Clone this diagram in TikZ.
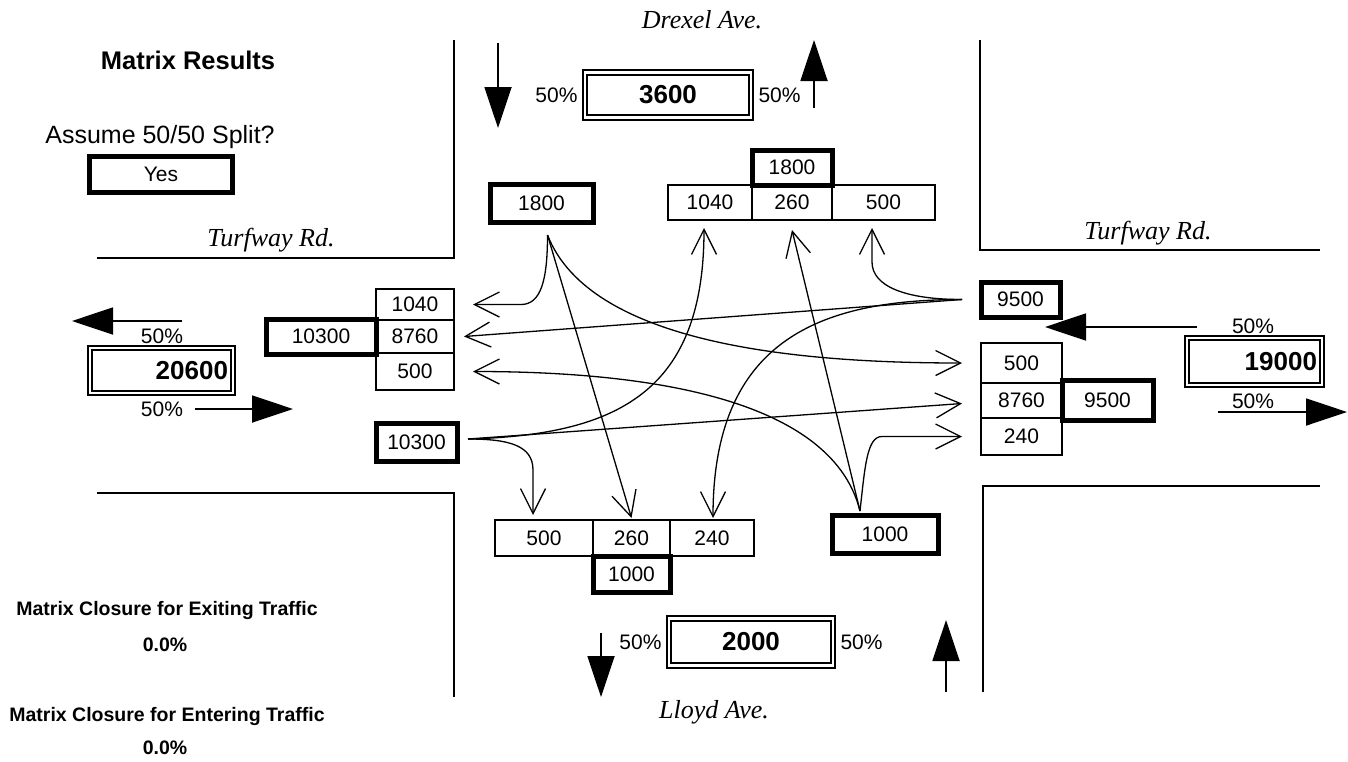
\documentclass[tikz,border=0pt]{standalone}
\usepackage{fontspec}
\setmainfont{Liberation Sans}
\newfontfamily\rdfont{Liberation Serif}
\usetikzlibrary{arrows.meta,positioning}

\begin{document}
\begin{tikzpicture}[x=1pt,y=-1pt,
    cell/.style={draw,line width=1.6pt,inner sep=0pt,outer sep=0pt,minimum height=35pt,font=\fontsize{21}{25}\selectfont},
    tot/.style={cell,line width=5pt},
    dbl/.style={draw,double,double distance=2.5pt,line width=1.8pt,inner sep=0pt,outer sep=0pt,minimum height=45pt,font=\bfseries\fontsize{26}{30}\selectfont},
    pct/.style={font=\fontsize{21}{25}\selectfont},
    road/.style={font=\rdfont\itshape\fontsize{26}{30}\selectfont},
    note/.style={font=\bfseries\fontsize{19.5}{24}\selectfont},
    curb/.style={line width=1.8pt},
    dir/.style={line width=1.8pt,-{Triangle[length=41pt,width=27pt]}},
    flow/.style={line width=1.3pt,-{Straight Barb[length=25pt,width=25pt]}}]
  \useasboundingbox (0,0) rectangle (1348,761);

  \draw[curb] (97,258) -- (454,258) -- (454,40);
  \draw[curb] (980,40) -- (980,250) -- (1320,250);
  \draw[curb] (97,493) -- (454,493) -- (454,697);
  \draw[curb] (983,692) -- (983,486) -- (1320,486);
  \node[road] (rdW) at (271,240) {Turfway Rd.};
  \node[road] (rdE) at (1148,233) {Turfway Rd.};
  \node[road] (rdN) at (702,20) {Drexel Ave.};
  \node[road] (rdS) at (714,712) {Lloyd Ave.};

  \node[font=\bfseries\fontsize{25.5}{30}\selectfont] (title) at (188,60) {Matrix Results};
  \node[font=\fontsize{25}{30}\selectfont] (ask) at (160,137) {Assume 50/50 Split?};
  \node[tot,minimum width=143pt,minimum height=36pt] (yes) at (161,174) {Yes};

  % north leg
  \coordinate (nOutA) at (498,43);
  \coordinate (nOutB) at (498,128);
  \draw[dir] (nOutA) -- (nOutB);
  \node[dbl,minimum width=166pt] (b3600) at (668,95) {3600};
  \node[pct,left=4pt of b3600] (n50out) {50\%};
  \node[pct,right=4pt of b3600] (n50in) {50\%};
  \coordinate (nInA) at (814,108);
  \coordinate (nInB) at (814,40);
  \draw[dir] (nInA) -- (nInB);
  \node[cell,minimum width=84pt] (o1040) at (710,202.5) {1040};
  \node[cell,minimum width=80pt,right=0pt of o1040] (o260) {260};
  \node[cell,minimum width=103pt,right=0pt of o260] (o500) {500};
  \node[tot,minimum width=80pt,above=0pt of o260] (i1800) {1800};
  \node[tot,minimum width=103pt,minimum height=38pt] (a1800) at (541.5,203) {1800};

  % west leg
  \coordinate (wOutA) at (182,321);
  \coordinate (wOutB) at (72,321);
  \draw[dir] (wOutA) -- (wOutB);
  \node[pct] (w50out) at (162,336) {50\%};
  \node[dbl,text width=133pt,align=right,inner xsep=5pt] (b20600) at (161.5,370.5) {20600};
  \node[pct] (w50in) at (162,409) {50\%};
  \coordinate (wInA) at (195,409);
  \coordinate (wInB) at (293,409);
  \draw[dir] (wInA) -- (wInB);
  \node[cell,minimum width=78pt,minimum height=31pt] (w1040) at (415,304.5) {1040};
  \node[cell,minimum width=78pt,minimum height=33pt,below=0pt of w1040] (w8760) {8760};
  \node[cell,minimum width=78pt,minimum height=37pt,below=0pt of w8760] (w500) {500};
  \node[tot,minimum width=110pt,left=0pt of w8760] (i10300) {10300};
  \node[tot,minimum width=81pt,minimum height=38pt] (a10300) at (416.5,442) {10300};

  % east leg
  \node[tot,minimum width=79pt] (a9500) at (1020.5,299.5) {9500};
  \coordinate (eInA) at (1197,327);
  \coordinate (eInB) at (1045,327);
  \draw[dir] (eInA) -- (eInB);
  \node[pct] (e50in) at (1253,326) {50\%};
  \node[dbl,text width=125pt,align=right,inner xsep=5pt,minimum height=47pt] (b19000) at (1254.5,361.5) {19000};
  \node[pct] (e50out) at (1253,401) {50\%};
  \coordinate (eOutA) at (1218,412);
  \coordinate (eOutB) at (1347,412);
  \draw[dir] (eOutA) -- (eOutB);
  \node[cell,minimum width=81pt,minimum height=40pt] (e500) at (1021.5,363) {500};
  \node[cell,minimum width=81pt,below=0pt of e500] (e8760) {8760};
  \node[cell,minimum width=81pt,minimum height=37pt,below=0pt of e8760] (e240) {240};
  \node[tot,minimum width=91pt,minimum height=40pt,right=0pt of e8760] (i9500) {9500};

  % south leg
  \node[cell,minimum width=98pt,minimum height=36pt] (s500) at (544,538) {500};
  \node[cell,minimum width=77pt,minimum height=36pt,right=0pt of s500] (s260) {260};
  \node[cell,minimum width=84pt,minimum height=36pt,right=0pt of s260] (s240) {240};
  \node[tot,minimum width=77pt,minimum height=36pt,below=0pt of s260] (i1000) {1000};
  \node[tot,minimum width=106pt,minimum height=38pt] (a1000) at (885,534) {1000};
  \coordinate (sOutA) at (601,633);
  \coordinate (sOutB) at (601,697);
  \draw[dir] (sOutA) -- (sOutB);
  \node[dbl,minimum width=164pt,minimum height=47pt] (b2000) at (751,642) {2000};
  \node[pct,left=4pt of b2000] (s50out) {50\%};
  \node[pct,right=4pt of b2000] (s50in) {50\%};
  \coordinate (sInA) at (946,692);
  \coordinate (sInB) at (946,620);
  \draw[dir] (sInA) -- (sInB);

  \node[note] (exitT) at (167,610) {Matrix Closure for Exiting Traffic};
  \node[note] (exitV) at (165,645) {0.0\%};
  \node[note] (entT) at (167,716) {Matrix Closure for Entering Traffic};
  \node[note] (entV) at (165,748) {0.0\%};

  % turning movements
  \coordinate (p1800) at ([xshift=6pt,yshift=-13pt]a1800.south);
  \coordinate (p10300) at ([xshift=11pt,yshift=3pt]a10300.east);
  \coordinate (p9500) at ([xshift=-19pt]a9500.west);
  \coordinate (p1000) at ([xshift=-25pt,yshift=4pt]a1000.north);

  \draw[flow] (p1800) .. controls +(0,45) and +(20,0) .. ([xshift=67pt]w1040.east) -- ([xshift=19pt]w1040.east);
  \draw[flow] (p1800) -- ([yshift=2pt]s260.north);
  \draw[flow] (p1800) .. controls +(43,110) and +(-162,0) .. ([xshift=-19pt]e500.west);

  \draw[flow] (p10300) .. controls +(40,0) and +(0,-25) .. ([xshift=-11pt,yshift=50pt]s500.north) -- ([xshift=-11pt,yshift=5pt]s500.north);
  \draw[flow] (p10300) -- ([xshift=-19pt,yshift=-3pt]e8760.west);
  \draw[flow] (p10300) .. controls +(152,-4) and +(0,162) .. ([xshift=-6pt,yshift=-8pt]o1040.south);

  \draw[flow] (p9500) .. controls +(-55,0) and +(0,25) .. ([xshift=-11.5pt,yshift=-42pt]o500.south) -- ([xshift=-11.5pt,yshift=-8pt]o500.south);
  \draw[flow] (p9500) -- ([xshift=10pt]w8760.east);
  \draw[flow] (p9500) .. controls +(-142,0) and +(0,-178) .. ([xshift=1pt,yshift=2pt]s240.north);

  \draw[flow] (p1000) -- ([yshift=-10pt]o260.south);
  \draw[flow] (p1000) .. controls +(-30,-121) and +(147,0) .. ([xshift=19pt]w500.east);
  \draw[flow] (p1000) .. controls +(5,-45) and +(-15,0) .. ([xshift=-99pt]e240.west) -- ([xshift=-19pt]e240.west);
\end{tikzpicture}
\end{document}
